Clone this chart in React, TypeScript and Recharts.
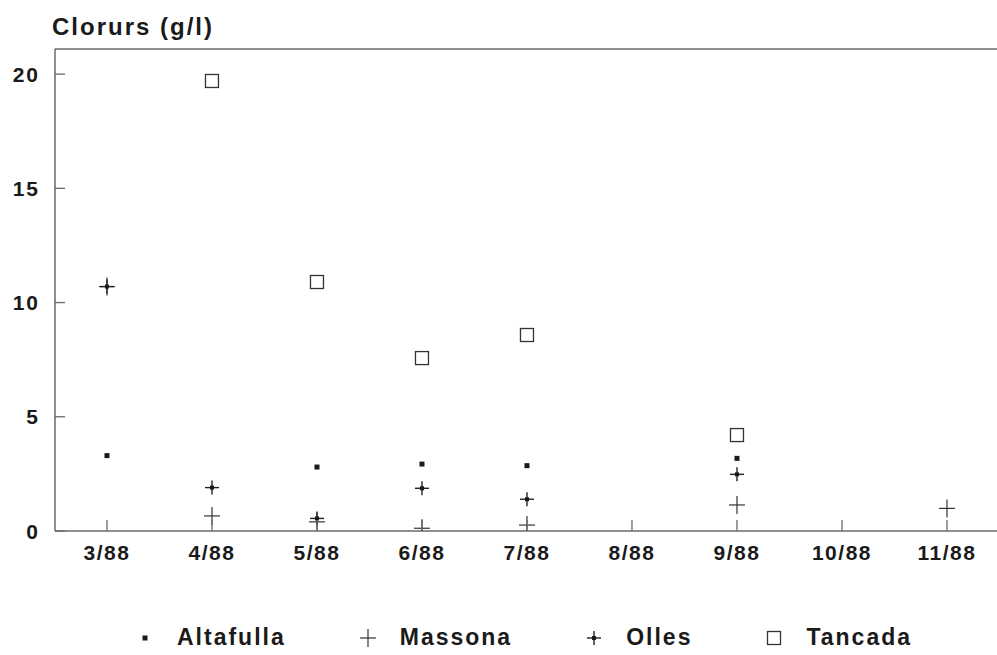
import React from 'react';
import {
  ScatterChart,
  Scatter,
  XAxis,
  YAxis,
  ReferenceLine,
} from 'recharts';

// ---------------------------------------------------------------
// DATA
// ---------------------------------------------------------------

const months = ['3/88', '4/88', '5/88', '6/88', '7/88', '8/88', '9/88', '10/88', '11/88'];
const altafulla = [3.3, null, 2.8, 2.93, 2.86, null, 3.18, null, null];
const massona = [10.7, 0.66, 0.4, 0.12, 0.26, null, 1.14, null, 0.99];
const olles = [10.7, 1.9, 0.55, 1.87, 1.39, null, 2.48, null, null];
const tancada = [null, 19.7, 10.9, 7.57, 8.58, null, 4.2, null, null];
const yTicks = [0, 5, 10, 15, 20];

const toPoints = (values: (number | null)[]) =>
  values
    .map((y, i) => ({ x: i, y }))
    .filter((p) => p.y !== null);

// ---------------------------------------------------------------
// STYLES
// ---------------------------------------------------------------

const ink = '#1a1a1a';
const axisColor = '#6a6a6a';
const font = '"Liberation Sans", Arial, Helvetica, sans-serif';

// ---------------------------------------------------------------
// MARKERS
// ---------------------------------------------------------------

function SmallSquare({ cx, cy }: any) {
  return <rect x={cx - 2.5} y={cy - 2.5} width={5} height={5} fill={ink} />;
}

function ThinPlus({ cx, cy }: any) {
  return (
    <g stroke="#333" strokeWidth={1.2}>
      <line x1={cx - 8} y1={cy} x2={cx + 8} y2={cy} />
      <line x1={cx} y1={cy - 9} x2={cx} y2={cy + 9} />
    </g>
  );
}

function BoldPlus({ cx, cy }: any) {
  return (
    <g>
      <g stroke="#222" strokeWidth={1.4}>
        <line x1={cx - 7} y1={cy} x2={cx + 7} y2={cy} />
        <line x1={cx} y1={cy - 7} x2={cx} y2={cy + 7} />
      </g>
      <rect x={cx - 2} y={cy - 2} width={4} height={4} fill={ink} />
    </g>
  );
}

function OpenSquare({ cx, cy }: any) {
  return (
    <rect
      x={cx - 6.5}
      y={cy - 6.5}
      width={13}
      height={13}
      fill="none"
      stroke="#333"
      strokeWidth={1.3}
    />
  );
}

// ---------------------------------------------------------------
// TICKS (tick marks point into the plot)
// ---------------------------------------------------------------

const Y_MARGIN = 15;
const X_MARGIN = 14;

function YTick({ x, y, payload }: any) {
  return (
    <g>
      <line x1={x + Y_MARGIN} y1={y} x2={x + Y_MARGIN + 10} y2={y} stroke={axisColor} strokeWidth={1.3} />
      <text
        x={x}
        y={y}
        dy="0.36em"
        textAnchor="end"
        fill={ink}
        fontFamily={font}
        fontWeight="bold"
        fontSize={21}
        letterSpacing={2}
      >
        {payload.value}
      </text>
    </g>
  );
}

function XTick({ x, y, payload }: any) {
  return (
    <g>
      <line x1={x} y1={y - X_MARGIN} x2={x} y2={y - X_MARGIN - 11} stroke={axisColor} strokeWidth={1.3} />
      <text
        x={x}
        y={y}
        dy="0.71em"
        textAnchor="middle"
        fill={ink}
        fontFamily={font}
        fontWeight="bold"
        fontSize={21}
        letterSpacing={1.5}
      >
        {months[payload.value]}
      </text>
    </g>
  );
}

// ---------------------------------------------------------------
// LEGEND
// ---------------------------------------------------------------

const legendItems = [
  { name: 'Altafulla', Marker: SmallSquare },
  { name: 'Massona', Marker: ThinPlus },
  { name: 'Olles', Marker: BoldPlus },
  { name: 'Tancada', Marker: OpenSquare },
];

function ChartLegend() {
  return (
    <div
      style={{
        position: 'absolute',
        left: 135,
        top: 624,
        display: 'flex',
        alignItems: 'center',
        fontFamily: font,
        fontWeight: 'bold',
        fontSize: 23,
        letterSpacing: 2,
        color: ink,
      }}
    >
      {legendItems.map(({ name, Marker }) => (
        <div key={name} style={{ display: 'flex', alignItems: 'center', marginRight: 72 }}>
          <svg width={20} height={20} style={{ marginRight: 22 }}>
            <Marker cx={10} cy={10} />
          </svg>
          <span>{name}</span>
        </div>
      ))}
    </div>
  );
}

// ---------------------------------------------------------------
// CHART
// ---------------------------------------------------------------

export default function App(): React.ReactElement {
  return (
    <div
      style={{
        position: 'absolute',
        left: 0,
        top: 0,
        width: 997,
        height: 655,
        background: '#fff',
        overflow: 'hidden',
      }}
    >
      <div
        style={{
          position: 'absolute',
          left: 52,
          top: 13,
          fontFamily: font,
          fontWeight: 'bold',
          fontSize: 24,
          letterSpacing: 2,
          color: ink,
        }}
      >
        Clorurs (g/l)
      </div>
      <ScatterChart
        width={1004}
        height={655}
        margin={{ top: 49, right: 0, left: 0, bottom: 94 }}
      >
        <XAxis
          type="number"
          dataKey="x"
          domain={[-0.495, 8.543]}
          ticks={[0, 1, 2, 3, 4, 5, 6, 7, 8]}
          allowDataOverflow
          height={30}
          tickSize={0}
          tickMargin={X_MARGIN}
          tickLine={false}
          axisLine={{ stroke: axisColor, strokeWidth: 1.5 }}
          tick={<XTick />}
          interval={0}
        />
        <YAxis
          type="number"
          dataKey="y"
          domain={[0, 21.1]}
          ticks={yTicks}
          allowDataOverflow
          width={55}
          tickSize={0}
          tickMargin={Y_MARGIN}
          tickLine={false}
          axisLine={{ stroke: axisColor, strokeWidth: 1.5 }}
          tick={<YTick />}
          interval={0}
        />
        <ReferenceLine y={21.1} stroke={axisColor} strokeWidth={1.5} />
        <Scatter name="Altafulla" data={toPoints(altafulla)} shape={<SmallSquare />} isAnimationActive={false} />
        <Scatter name="Massona" data={toPoints(massona)} shape={<ThinPlus />} isAnimationActive={false} />
        <Scatter name="Olles" data={toPoints(olles)} shape={<BoldPlus />} isAnimationActive={false} />
        <Scatter name="Tancada" data={toPoints(tancada)} shape={<OpenSquare />} isAnimationActive={false} />
      </ScatterChart>
      <ChartLegend />
    </div>
  );
}
